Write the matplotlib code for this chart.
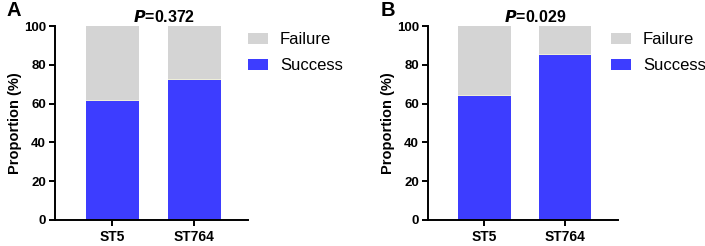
import matplotlib
matplotlib.use("Agg")
import matplotlib.pyplot as plt

plt.rcParams['font.family'] = ['Liberation Sans', 'DejaVu Sans']

groups = ["ST5", "ST764"]
success_a = [61.5, 72.0]
success_b = [63.8, 84.9]
failure_a = [100 - v for v in success_a]
failure_b = [100 - v for v in success_b]
p_values = ["0.372", "0.029"]
panel_labels = ["A", "B"]

blue = "#3d3dff"
grey = "#d4d4d4"

fig = plt.figure(figsize=(7.05, 2.46), dpi=100)
ax_a = fig.add_axes([0.078, 0.106, 0.274, 0.788])
ax_b = fig.add_axes([0.607, 0.106, 0.270, 0.788])


def draw_panel(ax, success, failure, pval, label, leg_x):
    x = range(len(groups))
    ax.bar(x, success, width=0.65, color=blue, edgecolor="none", label="Success")
    ax.bar(x, failure, width=0.65, bottom=success, color=grey,
           edgecolor="none", label="Failure")
    # faint seam between the two stacked parts
    ax.bar(x, 0.6, width=0.65, bottom=success, color="#eeeed8", edgecolor="none")
    ax.set_xlim(-0.7, 1.66)
    ax.set_ylim(0, 100)
    ax.set_yticks([0, 20, 40, 60, 80, 100])
    ax.set_xticks(list(x))
    ax.set_xticklabels(groups)
    for t in ax.get_xticklabels() + ax.get_yticklabels():
        t.set_fontweight("bold")
    ax.tick_params(axis="y", labelsize=9.5, width=1.4, length=4.5, pad=2)
    ax.tick_params(axis="x", labelsize=10, width=1.4, length=4.5, pad=3)
    ax.spines["top"].set_visible(False)
    ax.spines["right"].set_visible(False)
    ax.spines["left"].set_linewidth(1.4)
    ax.spines["bottom"].set_linewidth(1.4)
    ax.set_ylabel("Proportion (%)", fontsize=10.5, fontweight="bold", labelpad=1)
    ax.set_title(r"$\bfit{P}$" + "=" + pval, fontsize=11.5, fontweight="bold",
                 pad=3, x=0.565)
    ax.text(-0.25, 1.13, label, transform=ax.transAxes, fontsize=14.5,
            fontweight="bold", va="top")
    handles, labels = ax.get_legend_handles_labels()
    ax.legend(handles[:2][::-1], labels[:2][::-1], loc="upper left",
              bbox_to_anchor=(leg_x, 1 - 32 / 246), bbox_transform=fig.transFigure,
              frameon=False, fontsize=12, borderpad=0, borderaxespad=0,
              handlelength=1.2, handleheight=0.66, labelspacing=0.68,
              handletextpad=0.72)


draw_panel(ax_a, success_a, failure_a, p_values[0], panel_labels[0], 248 / 705)
draw_panel(ax_b, success_b, failure_b, p_values[1], panel_labels[1], 611 / 705)

fig.savefig("out.png", dpi=100)
